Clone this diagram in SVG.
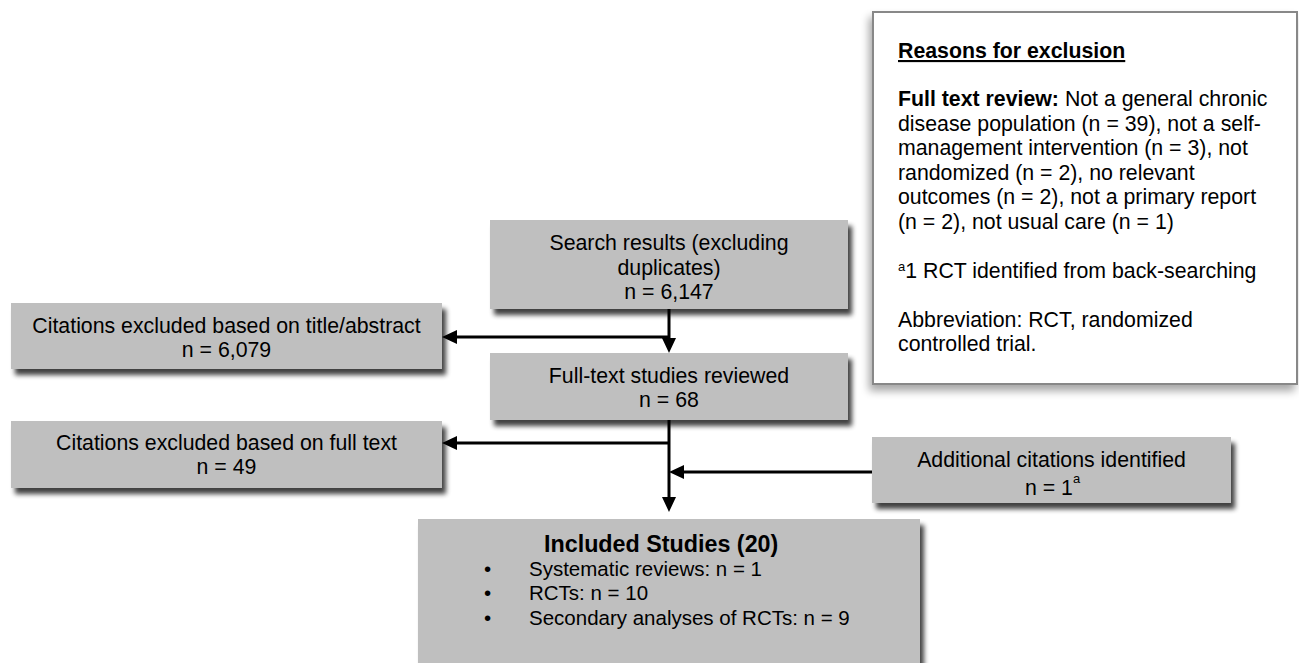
<svg xmlns="http://www.w3.org/2000/svg" width="1299" height="663" viewBox="0 0 1299 663">
<defs>
<filter id="sh" x="-10%" y="-20%" width="125%" height="150%">
<feGaussianBlur in="SourceAlpha" stdDeviation="2.5"/>
<feOffset dx="4" dy="6" result="b"/>
<feComponentTransfer><feFuncA type="linear" slope="0.75"/></feComponentTransfer>
<feMerge><feMergeNode/><feMergeNode in="SourceGraphic"/></feMerge>
</filter>
<filter id="sh2" x="-10%" y="-10%" width="125%" height="125%">
<feGaussianBlur in="SourceAlpha" stdDeviation="4"/>
<feOffset dx="-3" dy="6" result="b"/>
<feComponentTransfer><feFuncA type="linear" slope="0.35"/></feComponentTransfer>
<feMerge><feMergeNode/><feMergeNode in="SourceGraphic"/></feMerge>
</filter>
<marker id="ah" markerUnits="userSpaceOnUse" markerWidth="16" markerHeight="14" refX="0" refY="7" orient="auto">
<path d="M0,0 L15,7 L0,14 z" fill="#000"/>
</marker>
</defs>
<style>
.box{fill:#bfbfbf;filter:url(#sh);}
text{font-family:"Liberation Sans",Arial,sans-serif;font-size:21.3px;fill:#000;}
.c{text-anchor:middle;}
.b{font-weight:bold;}
text.t{font-size:23.3px;}
text.s{font-size:20.5px;}
.sup{font-size:13px;}
.conn{stroke:#000;stroke-width:3;fill:none;marker-end:url(#ah);}
</style>

<g id="reasons">
<rect x="873" y="12" width="424" height="372" fill="#fff" stroke="#888" stroke-width="2" filter="url(#sh2)"/>
<text x="898" y="58" class="b" text-decoration="underline">Reasons for exclusion</text>
<text x="898" y="106"><tspan font-weight="bold">Full text review:</tspan> Not a general chronic</text>
<text x="898" y="130.5">disease population (n = 39), not a self-</text>
<text x="898" y="155">management intervention (n = 3), not</text>
<text x="898" y="179.5">randomized (n = 2), no relevant</text>
<text x="898" y="204">outcomes (n = 2), not a primary report</text>
<text x="898" y="228.5">(n = 2), not usual care (n = 1)</text>
<text x="898" y="277.5"><tspan class="sup" dy="-7">a</tspan><tspan dy="7">1 RCT identified from back-searching</tspan></text>
<text x="898" y="326.5">Abbreviation: RCT, randomized</text>
<text x="898" y="351">controlled trial.</text>
</g>

<g id="search">
<rect class="box" x="490" y="220" width="358" height="89"/>
<text class="c" x="669" y="250">Search results (excluding</text>
<text class="c" x="669" y="274.5">duplicates)</text>
<text class="c" x="669" y="299">n = 6,147</text>
</g>

<g id="excluded-title">
<rect class="box" x="11" y="303" width="431" height="66"/>
<text class="c" x="226.5" y="333">Citations excluded based on title/abstract</text>
<text class="c" x="226.5" y="357">n = 6,079</text>
</g>

<g id="fulltext">
<rect class="box" x="490" y="353" width="358" height="67"/>
<text class="c" x="669" y="383">Full-text studies reviewed</text>
<text class="c" x="669" y="407">n = 68</text>
</g>

<g id="excluded-full">
<rect class="box" x="11" y="421" width="431" height="67"/>
<text class="c" x="226.5" y="450">Citations excluded based on full text</text>
<text class="c" x="226.5" y="474">n = 49</text>
</g>

<g id="additional">
<rect class="box" x="872" y="437" width="359" height="66"/>
<text class="c" x="1051.5" y="467">Additional citations identified</text>
<text x="1025" y="495">n = 1<tspan class="sup" dy="-12">a</tspan></text>
</g>

<g id="included">
<rect class="box" x="418" y="519" width="502" height="150"/>
<text x="544" y="552" class="b t">Included Studies (20)</text>
<text x="484" y="575.5" class="s">•</text>
<text x="529" y="575.5" class="s">Systematic reviews: n = 1</text>
<text x="484" y="600" class="s">•</text>
<text x="529" y="600" class="s">RCTs: n = 10</text>
<text x="484" y="624.5" class="s">•</text>
<text x="529" y="624.5" class="s">Secondary analyses of RCTs: n = 9</text>
</g>

<g id="connectors">
<path class="conn" d="M669,309 V338"/>
<path class="conn" d="M669,337 H457"/>
<path class="conn" d="M669,420 V497"/>
<path class="conn" d="M669,443 H457"/>
<path class="conn" d="M872,472 H684"/>
</g>
</svg>
